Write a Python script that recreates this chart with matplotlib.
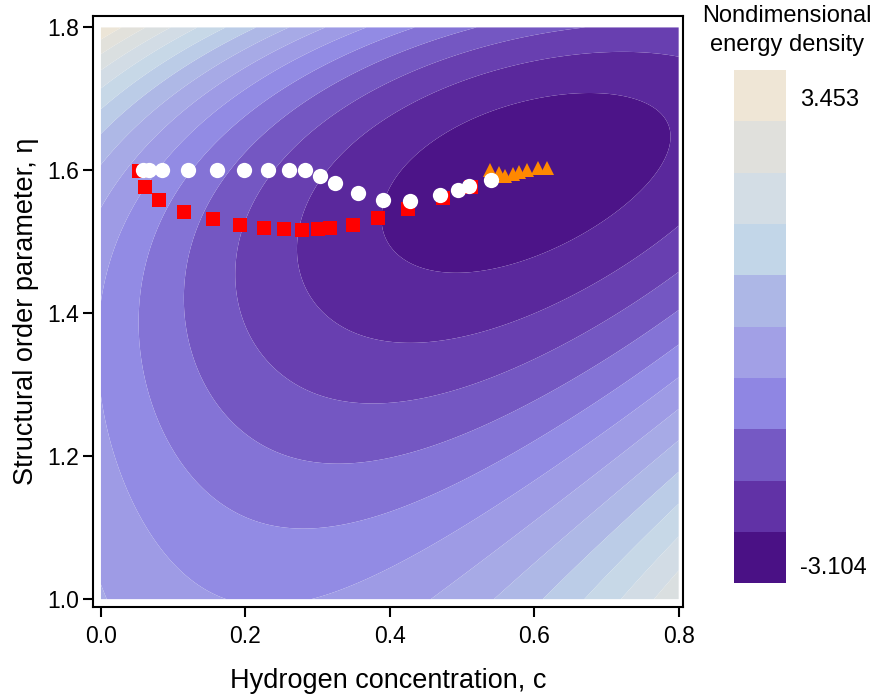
import numpy as np
import matplotlib
matplotlib.use("Agg")
import matplotlib.pyplot as plt
from matplotlib.colors import LinearSegmentedColormap, ListedColormap, Normalize
from matplotlib.ticker import FormatStrFormatter

plt.rcParams['font.family'] = ['Liberation Sans', 'DejaVu Sans']

# Colour key, from lowest (bottom) to highest (top) energy
key_colors = ["#4a1185", "#6132a6", "#7559c4", "#8f86e3", "#a2a0e6",
              "#adb7e6", "#c2d6e8", "#d3dde5", "#e0e0dc", "#efe6d6"]
e_min, e_max = -3.104, 3.453
level_start, level_step = -3.25, 0.45

# Landau polynomial coefficients for f(c, eta)
A, B, C, D = 43.4, 20.09, 17.69, 7.86
c1, c2 = 0.001, 0.298

# Trajectories in (c, eta)
sq_c = [0.053, 0.061, 0.080, 0.115, 0.155, 0.193, 0.226, 0.254, 0.278,
        0.300, 0.317, 0.349, 0.384, 0.425, 0.473, 0.513]
sq_eta = [1.599, 1.577, 1.558, 1.542, 1.532, 1.524, 1.520, 1.518, 1.517,
          1.518, 1.519, 1.524, 1.533, 1.546, 1.561, 1.577]

circ_c = [0.058, 0.067, 0.084, 0.120, 0.161, 0.198, 0.231, 0.260, 0.283,
          0.304, 0.324, 0.356, 0.391, 0.428, 0.470, 0.494, 0.510, 0.540]
circ_eta = [1.601, 1.601, 1.601, 1.601, 1.601, 1.601, 1.601, 1.601, 1.601,
            1.592, 1.582, 1.568, 1.558, 1.557, 1.566, 1.573, 1.578, 1.587]

tri_c = [0.539, 0.551, 0.560, 0.571, 0.579, 0.590, 0.605, 0.618]
tri_eta = [1.600, 1.597, 1.592, 1.595, 1.598, 1.600, 1.603, 1.603]

c_range = (0.0, 0.8)
eta_range = (1.0, 1.8)


def landau(c, eta):
    return (A / 2 * (c - c1) ** 2 + B / 2 * (c2 - c) * eta ** 2
            - C / 4 * eta ** 4 + D / 6 * eta ** 6)


cc, ee = np.meshgrid(np.linspace(*c_range, 501), np.linspace(*eta_range, 501))
f = landau(cc, ee)
f = e_min + (f - f.min()) / (f.max() - f.min()) * (e_max - e_min)

W, H = 876, 698
fig = plt.figure(figsize=(W / 100, H / 100), dpi=100)
ax = fig.add_axes([93 / W, 1 - 607 / H, 590 / W, 591 / H])

cmap = LinearSegmentedColormap.from_list("energy", key_colors)
levels = np.arange(level_start, e_max + level_step, level_step)
ax.contourf(cc, ee, f, levels=levels, cmap=cmap, norm=Normalize(e_min, e_max),
            antialiased=True)

ax.plot(tri_c, tri_eta, ls="none", marker="^", ms=9.5, color="#ff8800", mew=0)
ax.plot(sq_c, sq_eta, ls="none", marker="s", ms=9.5, color="#ff0000", mew=0)
ax.plot(circ_c, circ_eta, ls="none", marker="o", ms=11, color="white", mew=0)

ax.set_xlim(-0.011, 0.806)
ax.set_ylim(0.989, 1.816)
ax.set_xticks([0.0, 0.2, 0.4, 0.6, 0.8])
ax.set_yticks([1.0, 1.2, 1.4, 1.6, 1.8])
ax.xaxis.set_major_formatter(FormatStrFormatter("%.1f"))
ax.yaxis.set_major_formatter(FormatStrFormatter("%.1f"))
for s in ax.spines.values():
    s.set_linewidth(1.5)
ax.tick_params(direction="out", length=7, width=1.5, labelsize=16.5, pad=3)
ax.tick_params(axis="x", pad=6)
ax.set_xlabel("Hydrogen concentration, c", fontsize=19.5, labelpad=14)
ax.set_ylabel("Structural order parameter, η", fontsize=19.5, labelpad=6)

# Discrete colour key
cax = fig.add_axes([734 / W, 1 - 583 / H, 52 / W, 513 / H])
cax.imshow(np.arange(len(key_colors)).reshape(-1, 1), cmap=ListedColormap(key_colors),
           origin="lower", aspect="auto", extent=(0, 1, 0, len(key_colors)))
cax.set_axis_off()
fig.text(800 / W, 1 - 100 / H, f"{e_max:.3f}", fontsize=17, ha="left", va="center")
fig.text(800 / W, 1 - 568 / H, f"{e_min:.3f}", fontsize=17, ha="left", va="center")
fig.text(787 / W, 1 - 16 / H, "Nondimensional", fontsize=17, ha="center", va="center")
fig.text(787 / W, 1 - 45 / H, "energy density", fontsize=17, ha="center", va="center")

fig.savefig("out.png", dpi=100)
